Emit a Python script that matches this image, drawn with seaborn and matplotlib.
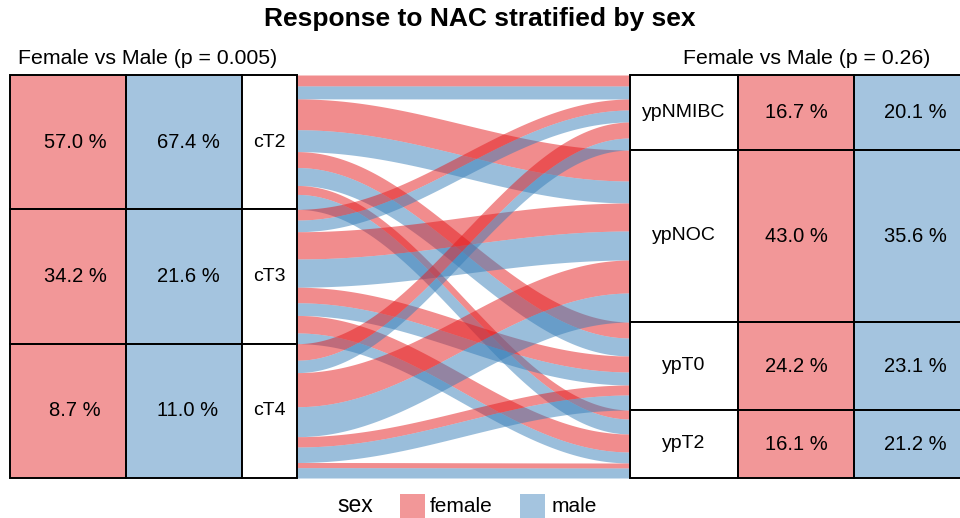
import numpy as np
import matplotlib
matplotlib.use('Agg')
import matplotlib.pyplot as plt
import seaborn as sns

# Daten
ct_levels = ['cT2', 'cT3', 'cT4']
ct_female_pct = [57.0, 34.2, 8.7]
ct_male_pct = [67.4, 21.6, 11.0]

yp_levels = ['ypNMIBC', 'ypNOC', 'ypT0', 'ypT2']
yp_female_pct = [16.7, 43.0, 24.2, 16.1]
yp_male_pct = [20.1, 35.6, 23.1, 21.2]

p_left = '0.005'
p_right = '0.26'

# flow weights: rows = cT, cols = ypT
flow_female = [[11, 31, 16, 9],
               [11, 28, 16, 18],
               [16, 33, 10, 5]]
flow_male = [[13, 22, 18, 15],
             [12, 29, 13, 11],
             [12, 29, 15, 10]]

sns.set_theme(style='white')
plt.rcParams['font.family'] = ['Liberation Sans', 'DejaVu Sans']
plt.rcParams['text.color'] = 'black'

pal = sns.color_palette('Set1')
col_f, col_m = pal[0], pal[1]

fig = plt.figure(figsize=(9.6, 5.18), dpi=100)
ax = fig.add_axes([0, 0, 1, 1])
ax.set_xlim(0, 960)
ax.set_ylim(518, 0)
ax.axis('off')

y_top, y_bot = 75, 478
H = y_bot - y_top
xl_f, xl_m, xl_lab, xl_end = 10, 126, 242, 297
xr_start, xr_f, xr_m, xr_end = 630, 738, 854, 976

ff = np.array(flow_female, dtype=float)
fm = np.array(flow_male, dtype=float)

# left strata: equal height
n_ct = len(ct_levels)
ct_h = H / n_ct
left_pos = {}
for i in range(n_ct):
    y0 = y_top + i * ct_h
    tot = ff[i].sum() + fm[i].sum()
    y = y0
    for j in range(len(yp_levels)):
        for s, w in (('f', ff[i, j]), ('m', fm[i, j])):
            h = w / tot * ct_h
            left_pos[(i, j, s)] = (y, y + h)
            y += h

# right strata: proportional to flow sums
yp_tot = ff.sum(axis=0) + fm.sum(axis=0)
yp_h = yp_tot / yp_tot.sum() * H
right_pos = {}
yp_bounds = []
y = y_top
for j in range(len(yp_levels)):
    y0 = y
    scale = yp_h[j] / yp_tot[j]
    for i in range(n_ct):
        for s, w in (('f', ff[i, j]), ('m', fm[i, j])):
            h = w * scale
            right_pos[(i, j, s)] = (y, y + h)
            y += h
    yp_bounds.append((y0, y))

# ribbons
x = np.linspace(xl_end, xr_start, 300)
t = (x - xl_end) / (xr_start - xl_end)
sm = (1 - np.cos(np.pi * t)) / 2
for i in range(n_ct):
    for j in range(len(yp_levels)):
        for s in ('f', 'm'):
            a0, b0 = left_pos[(i, j, s)]
            a1, b1 = right_pos[(i, j, s)]
            top = a0 + (a1 - a0) * sm
            bot = b0 + (b1 - b0) * sm
            ax.fill_between(x, top, bot, color=col_f if s == 'f' else col_m,
                            alpha=0.5, lw=0)

box_kw = dict(align='edge', edgecolor='black', linewidth=1.4)
fs_pct = 14.5
fs_lab = 14

# left boxes
for i, lab in enumerate(ct_levels):
    y0 = y_top + i * ct_h
    ax.bar(xl_f, ct_h, width=xl_m - xl_f, bottom=y0, color=(*col_f, 0.45), **box_kw)
    ax.bar(xl_m, ct_h, width=xl_lab - xl_m, bottom=y0, color=(*col_m, 0.45), **box_kw)
    ax.bar(xl_lab, ct_h, width=xl_end - xl_lab, bottom=y0, color='white', **box_kw)
    yc = y0 + ct_h / 2
    ax.text((xl_f + xl_m) / 2 + 7, yc, f'{ct_female_pct[i]:.1f} %', ha='center', va='center', fontsize=fs_pct)
    ax.text((xl_m + xl_lab) / 2 + 4, yc, f'{ct_male_pct[i]:.1f} %', ha='center', va='center', fontsize=fs_pct)
    ax.text((xl_lab + xl_end) / 2, yc, lab, ha='center', va='center', fontsize=fs_lab)

# right boxes
for j, lab in enumerate(yp_levels):
    y0, y1 = yp_bounds[j]
    h = y1 - y0
    ax.bar(xr_start, h, width=xr_f - xr_start, bottom=y0, color='white', **box_kw)
    ax.bar(xr_f, h, width=xr_m - xr_f, bottom=y0, color=(*col_f, 0.45), **box_kw)
    ax.bar(xr_m, h, width=xr_end - xr_m, bottom=y0, color=(*col_m, 0.45), **box_kw)
    yc = (y0 + y1) / 2
    ax.text((xr_start + xr_f) / 2, yc, lab, ha='center', va='center', fontsize=fs_lab)
    ax.text((xr_f + xr_m) / 2, yc, f'{yp_female_pct[j]:.1f} %', ha='center', va='center', fontsize=fs_pct)
    ax.text((xr_m + xr_end) / 2, yc, f'{yp_male_pct[j]:.1f} %', ha='center', va='center', fontsize=fs_pct)

# titles
ax.text(480, 19, 'Response to NAC stratified by sex', ha='center', va='center',
        fontsize=19, fontweight='bold')
ax.text(148, 58, f'Female vs Male (p = {p_left})', ha='center', va='center', fontsize=15.3)
ax.text(807, 58, f'Female vs Male (p = {p_right})', ha='center', va='center', fontsize=15.3)

# legend
ax.text(355, 505, 'sex', ha='center', va='center', fontsize=16.5)
ax.bar(400, 24, width=25, bottom=494, align='edge', color=(*col_f, 0.45), lw=0)
ax.text(430, 506, 'female', ha='left', va='center', fontsize=15)
ax.bar(520, 24, width=25, bottom=494, align='edge', color=(*col_m, 0.45), lw=0)
ax.text(552, 506, 'male', ha='left', va='center', fontsize=15)

fig.savefig('out.png', dpi=100)
